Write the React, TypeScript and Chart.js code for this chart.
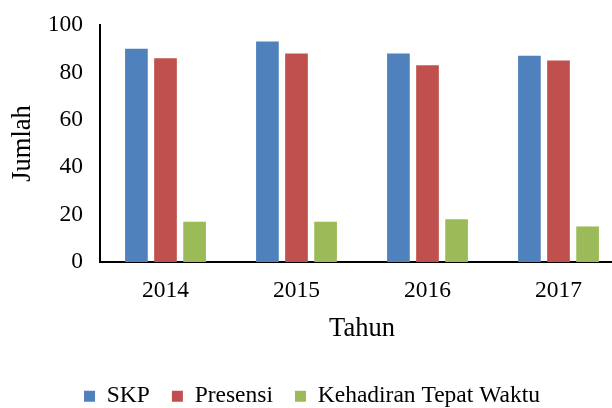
import React, { useEffect, useRef } from "react";
import { Chart, registerables } from "chart.js";

Chart.register(...registerables);

const categories = ["2014", "2015", "2016", "2017"];
const skp = [90, 93, 88, 87];
const presensi = [86, 88, 83, 85];
const kehadiran = [17, 17, 18, 15];
const yTicks = [0, 20, 40, 60, 80, 100];

const FONT = "'Liberation Serif', 'Times New Roman', serif";
const CANVAS_W = 624;
const CANVAS_H = 418;
const AXIS_TOP = 25;
const AXIS_BOTTOM = 262;
const AXIS_LEFT = 100;

export default function App() {
  const ref = useRef<HTMLCanvasElement | null>(null);

  useEffect(() => {
    document.body.style.margin = "0";
    document.body.style.overflow = "hidden";
    const canvas = ref.current;
    if (!canvas) return;
    const chart = new Chart(canvas, {
      type: "bar",
      data: {
        labels: categories,
        datasets: [
          { label: "SKP", data: skp, backgroundColor: "#4F81BD" },
          { label: "Presensi", data: presensi, backgroundColor: "#C0504D" },
          { label: "Kehadiran Tepat Waktu", data: kehadiran, backgroundColor: "#9BBB59" },
        ],
      },
      options: {
        animation: false,
        responsive: false,
        maintainAspectRatio: false,
        datasets: {
          bar: { categoryPercentage: 0.666, barPercentage: 0.78 },
        },
        layout: { padding: { top: AXIS_TOP, left: 0, right: 0, bottom: 0 } },
        plugins: {
          tooltip: { enabled: false },
          legend: {
            position: "bottom",
            labels: {
              font: { family: FONT, size: 23.5 },
              color: "#000",
              boxWidth: 11,
              boxHeight: 11,
              padding: 22,
            },
          },
        },
        scales: {
          x: {
            grid: { display: false, drawTicks: false },
            border: { display: true, color: "#000", width: 2 },
            ticks: { font: { family: FONT, size: 23.5 }, color: "#000", padding: 15 },
            title: {
              display: true,
              text: "Tahun",
              font: { family: FONT, size: 26.5 },
              color: "#000",
              padding: { top: 0, bottom: 18 },
            },
            afterFit: (scale: any) => {
              const leg = scale.chart.legend;
              scale.height = CANVAS_H - AXIS_BOTTOM - (leg ? leg.height : 0);
              scale.paddingLeft = 0;
              scale.paddingRight = 0;
            },
          },
          y: {
            min: 0,
            max: 100,
            afterBuildTicks: (scale: any) => {
              scale.ticks = yTicks.map((v) => ({ value: v }));
            },
            grid: { display: false, drawTicks: false },
            border: { display: true, color: "#000", width: 2 },
            ticks: { font: { family: FONT, size: 23.5 }, color: "#000", padding: 17 },
            title: {
              display: true,
              text: "Jumlah",
              font: { family: FONT, size: 26.5 },
              color: "#000",
              padding: { top: 7, bottom: 0 },
            },
            afterFit: (scale: any) => {
              scale.width = AXIS_LEFT;
              scale.paddingTop = 0;
              scale.paddingBottom = 0;
            },
          },
        },
      },
    });
    return () => chart.destroy();
  }, []);

  return (
    <div style={{ width: CANVAS_W, height: CANVAS_H, overflow: "hidden" }}>
      <canvas ref={ref} width={CANVAS_W} height={CANVAS_H} style={{ display: "block" }} />
    </div>
  );
}
